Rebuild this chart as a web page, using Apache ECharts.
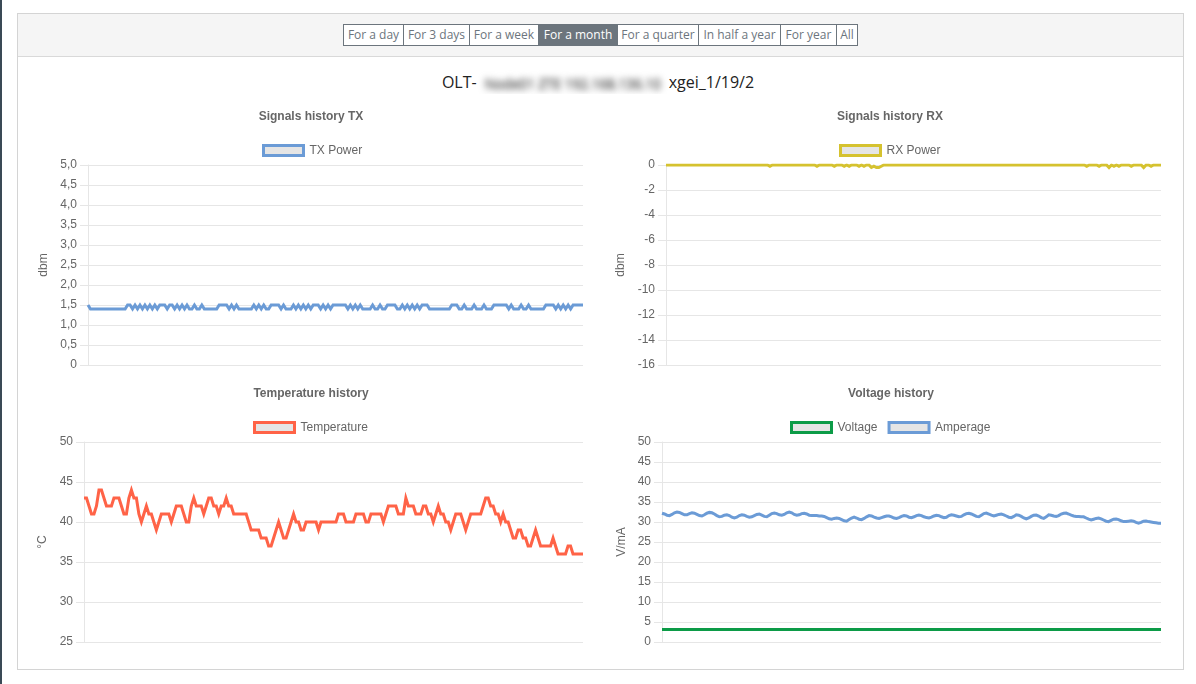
<!DOCTYPE html>
<html>
<head>
<meta charset="utf-8">
<script src="https://cdn.jsdelivr.net/npm/echarts@6/dist/echarts.min.js"></script>
<style>
html,body{margin:0;padding:0;background:#fff;width:1196px;height:684px;overflow:hidden;font-family:"Open Sans","Noto Sans",sans-serif;}
#leftbar{position:absolute;left:0;top:0;width:2px;height:684px;background:#3a4a56;}
#panel{position:absolute;left:17px;top:13px;width:1167px;height:657px;border:1px solid #d4d4d4;box-sizing:border-box;background:#fff;}
#header{position:absolute;left:0;top:0;right:0;height:42px;background:#f5f5f5;border-bottom:1px solid #d9d9d9;}
.btn{position:absolute;top:24px;height:22px;box-sizing:border-box;border:1px solid #6c757d;background:#fff;color:#6c757d;font-size:12px;line-height:20px;text-align:center;white-space:nowrap;}
.btn.active{background:#6c757d;color:#fff;}
#title{position:absolute;left:0;width:1196px;top:70px;height:24px;text-align:center;font-size:16px;color:#222;line-height:24px;white-space:nowrap;}
#title .blurwrap{display:inline-block;width:192px;height:24px;vertical-align:top;overflow:hidden;}
#title .blur{display:inline-block;color:#777;filter:blur(3.2px);font-size:14px;letter-spacing:-0.2px;text-shadow:0 2px 2px #555;}
#chart{position:absolute;left:0;top:0;width:1196px;height:684px;z-index:2;}
</style>
</head>
<body>
<div id="leftbar"></div>
<div id="panel"><div id="header"></div></div>
<div id="buttons"></div>
<div id="title"><span>OLT-</span><span class="blurwrap"><span class="blur">Node01 ZTE 192.168.136.10</span></span><span>xgei_1/19/2</span></div>
<div id="chart"></div>
<script>
// ---- data ----
const periodButtons = ["For a day","For 3 days","For a week","For a month","For a quarter","In half a year","For year","All"];
const activePeriod = "For a month";

const txPower = [
1.5,1.4,1.4,1.4,1.4,1.4,1.4,1.4,1.4,1.4,
1.4,1.4,1.4,1.4,1.4,1.4,1.5,1.5,1.4,1.5,
1.4,1.5,1.4,1.5,1.4,1.5,1.4,1.5,1.4,1.5,
1.5,1.5,1.4,1.5,1.5,1.4,1.5,1.4,1.5,1.4,
1.5,1.4,1.4,1.5,1.4,1.4,1.5,1.4,1.4,1.4,
1.4,1.4,1.4,1.5,1.5,1.5,1.5,1.4,1.5,1.4,
1.5,1.4,1.4,1.4,1.4,1.4,1.4,1.5,1.4,1.5,
1.4,1.5,1.4,1.4,1.5,1.5,1.5,1.5,1.4,1.5,
1.4,1.4,1.4,1.5,1.4,1.5,1.4,1.5,1.4,1.5,
1.4,1.5,1.5,1.5,1.4,1.5,1.4,1.5,1.4,1.5,
1.5,1.5,1.5,1.5,1.5,1.4,1.5,1.4,1.5,1.4,
1.5,1.4,1.4,1.4,1.4,1.5,1.4,1.4,1.5,1.4,
1.4,1.5,1.5,1.5,1.5,1.4,1.4,1.5,1.4,1.5,
1.4,1.5,1.4,1.5,1.4,1.5,1.5,1.5,1.4,1.4,
1.4,1.4,1.4,1.4,1.4,1.4,1.4,1.5,1.5,1.5,
1.4,1.4,1.5,1.4,1.4,1.4,1.5,1.4,1.4,1.4,
1.5,1.4,1.4,1.4,1.5,1.5,1.5,1.5,1.5,1.5,
1.4,1.5,1.4,1.4,1.4,1.5,1.4,1.4,1.5,1.4,
1.4,1.4,1.4,1.4,1.4,1.5,1.5,1.5,1.5,1.4,
1.5,1.4,1.5,1.4,1.5,1.4,1.5,1.5,1.5,1.5,
1.5];

const rxPower = [
0,0,0,0,0,0,0,0,0,0,
0,0,0,0,0,0,0,0,0,0,
0,0,0,0,0,0,0,0,0,0,
0,0,0,0,0,0,0,0,0,0,
0,0,-0.1,0,0,0,0,0,0,0,
0,0,0,0,0,0,0,0,0,0,
0,-0.1,0,0,0,0,0,0,-0.1,0,
0,0,-0.1,0,-0.1,0,0,0,-0.1,0,
-0.1,0,0,-0.2,-0.1,-0.2,-0.2,-0.1,0,0,
0,0,0,0,0,0,0,0,0,0,
0,0,0,0,0,0,0,0,0,0,
0,0,0,0,0,0,0,0,0,0,
0,0,0,0,0,0,0,0,0,0,
0,0,0,0,0,0,0,0,0,0,
0,0,0,0,0,0,0,0,0,0,
0,0,0,0,0,0,0,0,0,0,
0,0,0,0,0,0,0,0,0,0,
-0.1,0,0,0,0,-0.1,0,0,0,-0.2,
0,-0.1,0,-0.1,0,0,0,0,-0.1,0,
0,0,0,-0.2,0,0,-0.1,0,0,0,
0];

const temperature = [
43,43,42,41,41,42,44,44,43,42,
42,42,43,43,43,42,41,41,43,44,
43,43,41,40,41,42,41,41,40,39,
40,41,41,41,41,40,41,42,42,42,
41,40,40,42,43,42,42,42,41,42,
43,43,42,42,41,42,42,43,42,42,
41,41,41,41,41,41,40,39,39,39,
39,38,38,38,37,37,38,39,40,39,
38,38,39,40,41,40,40,39,39,40,
40,40,40,40,39,40,40,40,40,40,
40,40,41,41,41,40,40,40,40,41,
41,41,41,40,40,41,41,41,41,41,
40,41,42,42,42,42,41,41,41,43,
42,42,42,41,41,41,42,42,41,41,
40,41,42,41,41,40,40,39,40,41,
41,41,40,39,40,41,41,41,41,41,
42,43,43,42,42,41,41,40,41,40,
40,39,38,38,39,39,38,38,37,37,
38,39,38,37,37,37,37,37,38,37,
36,36,36,36,37,37,36,36,36,36,
36];

const voltage = [
3.1,3.1,3.1,3.1,3.1,3.1,3.1,3.1,3.1,3.1,
3.1,3.1,3.1,3.1,3.1,3.1,3.1,3.1,3.1,3.1,
3.1,3.1,3.1,3.1,3.1,3.1,3.1,3.1,3.1,3.1,
3.1,3.1,3.1,3.1,3.1,3.1,3.1,3.1,3.1,3.1,
3.1,3.1,3.1,3.1,3.1,3.1,3.1,3.1,3.1,3.1,
3.1,3.1,3.1,3.1,3.1,3.1,3.1,3.1,3.1,3.1,
3.1,3.1,3.1,3.1,3.1,3.1,3.1,3.1,3.1,3.1,
3.1,3.1,3.1,3.1,3.1,3.1,3.1,3.1,3.1,3.1,
3.1,3.1,3.1,3.1,3.1,3.1,3.1,3.1,3.1,3.1,
3.1,3.1,3.1,3.1,3.1,3.1,3.1,3.1,3.1,3.1,
3.1,3.1,3.1,3.1,3.1,3.1,3.1,3.1,3.1,3.1,
3.1,3.1,3.1,3.1,3.1,3.1,3.1,3.1,3.1,3.1,
3.1,3.1,3.1,3.1,3.1,3.1,3.1,3.1,3.1,3.1,
3.1,3.1,3.1,3.1,3.1,3.1,3.1,3.1,3.1,3.1,
3.1,3.1,3.1,3.1,3.1,3.1,3.1,3.1,3.1,3.1,
3.1,3.1,3.1,3.1,3.1,3.1,3.1,3.1,3.1,3.1,
3.1,3.1,3.1,3.1,3.1,3.1,3.1,3.1,3.1,3.1,
3.1,3.1,3.1,3.1,3.1,3.1,3.1,3.1,3.1,3.1,
3.1,3.1,3.1,3.1,3.1,3.1,3.1,3.1,3.1,3.1,
3.1,3.1,3.1,3.1,3.1,3.1,3.1,3.1,3.1,3.1,
3.1];

const amperage = [
32.2,32.0,31.7,31.6,31.9,32.3,32.5,32.4,32.1,31.8,
31.8,32.1,32.3,32.2,31.9,31.6,31.5,31.8,32.2,32.4,
32.3,32.0,31.6,31.3,31.4,31.7,31.8,31.6,31.2,31.0,
31.2,31.6,31.8,31.7,31.4,31.2,31.3,31.6,31.9,32.0,
31.7,31.4,31.3,31.7,32.1,32.25,32.1,31.8,31.7,31.9,
32.3,32.5,32.3,31.9,31.7,31.8,32.1,32.2,32.0,31.7,
31.6,31.6,31.6,31.5,31.5,31.4,31.1,30.8,30.7,30.9,
31.0,30.9,30.6,30.3,30.2,30.6,31.0,31.25,31.0,30.7,
30.6,30.9,31.3,31.6,31.5,31.2,31.0,30.9,31.1,31.3,
31.5,31.5,31.3,31.0,30.9,31.1,31.4,31.6,31.5,31.2,
31.1,31.3,31.6,31.75,31.6,31.3,31.1,31.0,31.2,31.5,
31.7,31.6,31.3,31.1,31.2,31.6,31.8,31.7,31.5,31.3,
31.4,31.8,32.1,32.2,32.0,31.7,31.4,31.3,31.7,32.1,
32.25,32.0,31.7,31.5,31.7,31.9,32.0,31.8,31.5,31.2,
31.1,31.4,31.8,31.7,31.4,31.0,30.8,31.0,31.4,31.7,
31.75,31.5,31.1,30.9,31.3,31.8,31.7,31.5,31.4,31.6,
32.0,32.2,32.25,32.0,31.7,31.5,31.4,31.4,31.3,31.3,
31.0,30.7,30.5,30.7,30.9,31.0,30.8,30.5,30.2,30.1,
30.4,30.7,30.75,30.6,30.3,30.1,30.1,30.2,30.3,30.2,
29.9,29.7,29.9,30.2,30.25,30.1,30.0,29.9,29.8,29.7,
29.7];

// ---- header buttons (HTML) ----
const btnEdges = [343,403,469,538,617,698,780,836,857];
const bc = document.getElementById('buttons');
periodButtons.forEach((t,i)=>{
  const d=document.createElement('div');
  d.className='btn'+(t===activePeriod?' active':'');
  d.style.left=btnEdges[i]+'px';
  d.style.width=(btnEdges[i+1]-btnEdges[i]+1)+'px';
  d.textContent=t;
  bc.appendChild(d);
});

// ---- chart ----
const FONT = '"Liberation Sans", Arial, Helvetica, sans-serif';
const GRID = '#e6e6e6';
const TXT = '#666';
const C_TX = '#6b9bd6', C_RX = '#d5c22f', C_T = '#ff6347', C_V = '#0c9b47', C_A = '#6b9bd6';

function yAx(gi, min, max, interval, name, nameGap, fmt){
  return {type:'value', gridIndex:gi, min, max, interval, name, nameLocation:'middle', nameGap, nameRotate:90,
    nameTextStyle:{color:TXT, fontSize:12, fontFamily:FONT},
    axisLine:{show:true, lineStyle:{color:GRID, width:1}},
    axisTick:{show:true, length:8, lineStyle:{color:GRID}},
    splitLine:{show:true, lineStyle:{color:GRID, width:1}},
    axisLabel:{color:TXT, fontSize:12, fontFamily:FONT, margin:11, formatter:fmt}};
}
function xAx(gi){
  return {type:'category', gridIndex:gi, boundaryGap:false,
    axisLine:{show:false}, axisTick:{show:false}, axisLabel:{show:false}, splitLine:{show:false}};
}
function ser(name, data, gi, color){
  return {type:'line', name, data, xAxisIndex:gi, yAxisIndex:gi, showSymbol:false, symbol:'none',
    color, lineStyle:{width:3, color, join:'miter'}, itemStyle:{color}, animation:false};
}
function leg(items, left, top){
  return {data:items.map(([name,col])=>({name, icon:'rect', itemStyle:{color:'#e5e5e5', borderColor:col, borderWidth:3}})),
    left, top, padding:0, icon:'rect', itemWidth:40, itemHeight:10, itemGap:10,
    selectedMode:false,
    textStyle:{color:TXT, fontSize:12, fontFamily:FONT, padding:[0,0,0,1]}};
}
function ttl(text, cx, top){
  return {text, left:cx, top, padding:0, textAlign:'center',
    textStyle:{color:TXT, fontSize:12, fontWeight:'bold', fontFamily:FONT}};
}
const comma = v => v===0 ? '0' : v.toFixed(1).replace('.', ',');

const chart = echarts.init(document.getElementById('chart'), null, {renderer:'canvas'});
chart.setOption({
  animation:false,
  title:[ttl('Signals history TX',311,111), ttl('Signals history RX',890,111), ttl('Temperature history',311,388), ttl('Voltage history',891,388)],
  legend:[leg([['TX Power',C_TX]],262,144), leg([['RX Power',C_RX]],839,144), leg([['Temperature',C_T]],253,421), leg([['Voltage',C_V],['Amperage',C_A]],790,421)],
  grid:[
    {left:88, top:165, width:495, height:200},
    {left:666, top:165, width:495, height:200},
    {left:84, top:442, width:499, height:200},
    {left:662, top:442, width:499, height:200}
  ],
  xAxis:[xAx(0), xAx(1), xAx(2), xAx(3)],
  yAxis:[
    yAx(0, 0, 5, 0.5, 'dbm', 38, comma),
    yAx(1, -16, 0, 2, 'dbm', 39, v=>String(v)),
    yAx(2, 25, 50, 5, '°C', 35, v=>String(v)),
    yAx(3, 0, 50, 5, 'V/mA', 34, v=>String(v))
  ],
  series:[
    ser('TX Power', txPower, 0, C_TX),
    ser('RX Power', rxPower, 1, C_RX),
    ser('Temperature', temperature, 2, C_T),
    ser('Voltage', voltage, 3, C_V),
    ser('Amperage', amperage, 3, C_A)
  ]
});
</script>
</body>
</html>
